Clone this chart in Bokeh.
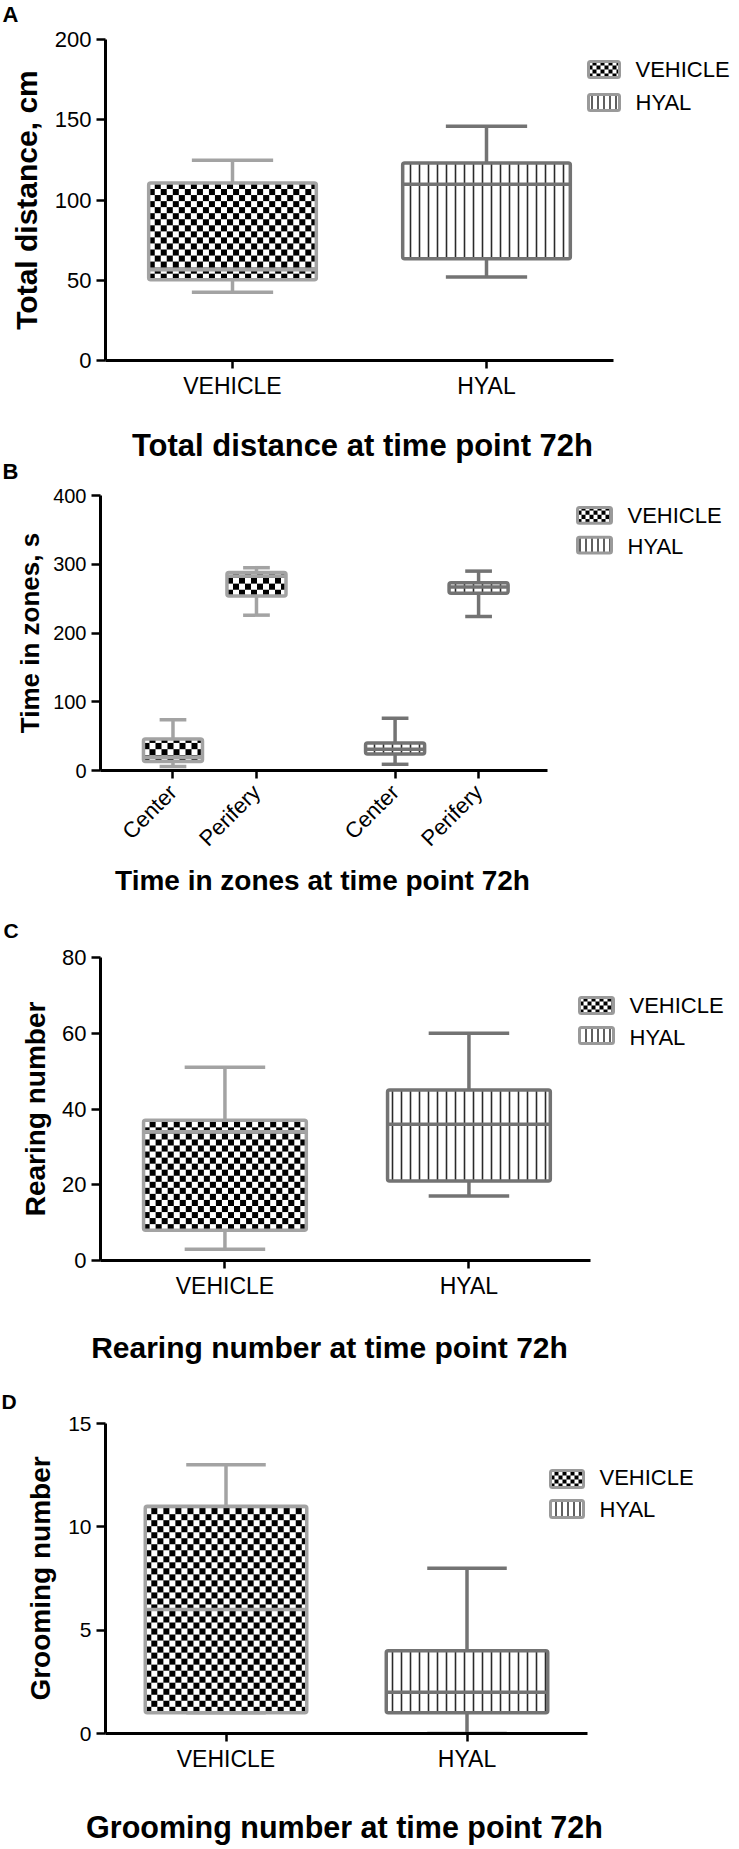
import math
import numpy as np
from bokeh.plotting import figure
from bokeh.models import Range1d, FixedTicker, ColumnDataSource
from bokeh.layouts import column
from bokeh.embed import file_html
from bokeh.resources import INLINE
from bokeh.core.properties import value

# ---------------- data ----------------
A_groups = ["VEHICLE", "HYAL"]
A_min = [42.6, 52.0]
A_q1 = [50.3, 63.4]
A_med = [56.5, 109.8]
A_q3 = [110.6, 123.0]
A_max = [124.7, 146.0]
A_yticks = [0, 50, 100, 150, 200]

B_groups = ["VEHICLE", "VEHICLE", "HYAL", "HYAL"]
B_zones = ["Center", "Perifery", "Center", "Perifery"]
B_min = [6, 226, 9, 224]
B_q1 = [13, 254, 24, 258]
B_med = [19, 283, 31, 267]
B_q3 = [46, 288, 40, 273]
B_max = [74, 295, 76, 290]
B_yticks = [0, 100, 200, 300, 400]

C_groups = ["VEHICLE", "HYAL"]
C_min = [3, 17]
C_q1 = [8, 21]
C_med = [34, 36]
C_q3 = [37, 45]
C_max = [51, 60]
C_yticks = [0, 20, 40, 60, 80]

D_groups = ["VEHICLE", "HYAL"]
D_min = [1, 0]
D_q1 = [1, 1]
D_med = [6, 2]
D_q3 = [11, 4]
D_max = [13, 8]
D_yticks = [0, 5, 10, 15]

legend_names = ["VEHICLE", "HYAL"]

titles = ["Total distance at time point 72h", "Time in zones at time point 72h",
          "Rearing number at time point 72h", "Grooming number at time point 72h"]
letters = ["A", "B", "C", "D"]

# ---------------- style ----------------
FONT = "Liberation Sans"
W = 739
LW = 3.5
COLORS = {"VEHICLE": "#a3a3a3", "HYAL": "#737373"}


def no_align(p):
    if hasattr(p, "frame_align"):
        p.frame_align = False
    return p


def checker(nx, ny, cell):
    nx = max(int(round(nx)), 1)
    ny = max(int(round(ny)), 1)
    img = np.empty((ny, nx), dtype=np.uint32)
    view = img.view(dtype=np.uint8).reshape((ny, nx, 4))
    jj, ii = np.meshgrid(np.arange(nx), np.arange(ny))
    black = ((ii // cell) + (jj // cell)) % 2 == 0
    v = np.where(black, 0, 255).astype(np.uint8)
    view[:, :, 0] = v
    view[:, :, 1] = v
    view[:, :, 2] = v
    view[:, :, 3] = 255
    return img


HYAL_HATCH = dict(hatch_pattern="vertical_line", hatch_scale=9,
                  hatch_weight=1.6, hatch_color="#2a2a2a")


def text_fig(h, items):
    p = figure(width=W, height=h, x_range=Range1d(0, W), y_range=Range1d(h, 0),
               output_backend="svg", toolbar_location=None, min_border=0,
               x_axis_type=None, y_axis_type=None, title=None)
    no_align(p)
    p.outline_line_color = None
    p.xgrid.visible = False
    p.ygrid.visible = False
    p.background_fill_color = "white"
    p.border_fill_color = "white"
    for (x, y, txt, size, align) in items:
        p.text(x=[x], y=[y], text=[txt], text_font=value(FONT), text_font_style="bold",
               text_font_size=size, text_align=align, text_baseline="middle",
               text_color="black")
    return p


def make_panel(cfg):
    H, fl, ft, fb = cfg["H"], cfg["fl"], cfg["ft"], cfg["fb"]
    xs, unit, ymax = cfg["xs"], cfg["unit"], cfg["ymax"]
    fw = W - fl
    fh = H - ft - fb
    xe = xs + fw / unit
    ypx = fh / ymax  # pixels per y unit

    def dx(px):
        return xs + (px - fl) / unit

    def dy(py):
        return (ft + fh - py) / fh * ymax

    p = figure(width=W, height=H, x_range=Range1d(xs, xe), y_range=Range1d(0, ymax),
               output_backend="svg", toolbar_location=None, title=None,
               min_border_left=fl, min_border_right=0, min_border_top=ft, min_border_bottom=fb)
    no_align(p)
    p.outline_line_color = None
    p.xgrid.visible = False
    p.ygrid.visible = False
    p.background_fill_color = "white"
    p.border_fill_color = "white"

    xpos = cfg["xpos"]
    groups = cfg["groups"]
    bw = cfg["box_w"]
    cw = cfg["cap_w"]
    for g in legend_names:
        idx = [i for i, gg in enumerate(groups) if gg == g]
        x = [xpos[i] for i in idx]
        src = ColumnDataSource(dict(
            x=x,
            lo=[cfg["min"][i] for i in idx], q1=[cfg["q1"][i] for i in idx],
            med=[cfg["med"][i] for i in idx], q3=[cfg["q3"][i] for i in idx],
            hi=[cfg["max"][i] for i in idx],
            bl=[v - bw / 2 for v in x], br=[v + bw / 2 for v in x],
            cl=[v - cw / 2 for v in x], cr=[v + cw / 2 for v in x],
        ))
        col = COLORS[g]
        p.segment(x0="x", y0="q3", x1="x", y1="hi", source=src, line_color=col, line_width=LW)
        p.segment(x0="x", y0="q1", x1="x", y1="lo", source=src, line_color=col, line_width=LW)
        p.segment(x0="cl", y0="hi", x1="cr", y1="hi", source=src, line_color=col, line_width=LW)
        p.segment(x0="cl", y0="lo", x1="cr", y1="lo", source=src, line_color=col, line_width=LW)
        if g == "VEHICLE":
            imgs = [checker(bw * unit, (src.data["q3"][k] - src.data["q1"][k]) * ypx, 6)
                    for k in range(len(x))]
            p.image_rgba(image=imgs, x=src.data["bl"], y=src.data["q1"], dw=[bw] * len(x),
                         dh=[src.data["q3"][k] - src.data["q1"][k] for k in range(len(x))])
            p.vbar(x="x", width=bw, top="q3", bottom="q1", source=src, line_color=col,
                   line_width=LW, border_radius=2, fill_alpha=0)
        else:
            p.vbar(x="x", width=bw, top="q3", bottom="q1", source=src, line_color=col,
                   line_width=LW, border_radius=2, fill_color="white", **HYAL_HATCH)
        p.segment(x0="bl", y0="med", x1="br", y1="med", source=src, line_color=col, line_width=LW)

    # legend (inside the frame area, right of the axis extent)
    lg = cfg["legend"]
    for k, g in enumerate(legend_names):
        t = lg["icon_y"][k]
        b = t + lg["icon_h"]
        x0, x1 = lg["icon_x"]
        if g == "VEHICLE":
            p.image_rgba(image=[checker(x1 - x0, b - t, 4)], x=[dx(x0)], y=[dy(b)],
                         dw=[dx(x1) - dx(x0)], dh=[dy(t) - dy(b)])
            p.quad(left=[dx(x0)], right=[dx(x1)], top=[dy(t)], bottom=[dy(b)],
                   line_color="#9a9a9a", line_width=3, border_radius=2, fill_alpha=0)
        else:
            p.quad(left=[dx(x0)], right=[dx(x1)], top=[dy(t)], bottom=[dy(b)],
                   line_color="#9a9a9a", line_width=3, border_radius=2, fill_color="white",
                   hatch_pattern="vertical_line", hatch_scale=6, hatch_weight=1.5,
                   hatch_color="#2a2a2a")
        p.text(x=[dx(lg["text_x"])], y=[dy(lg["text_y"][k])], text=[g],
               text_font=value(FONT), text_font_size="22px", text_baseline="middle",
               text_align="left", text_color="black")

    # axes
    for ax in (p.xaxis[0], p.yaxis[0]):
        ax.axis_line_width = 3
        ax.axis_line_color = "black"
        ax.major_tick_line_width = 2.5
        ax.major_tick_line_color = "black"
        ax.major_tick_in = 0
        ax.minor_tick_line_color = None
        ax.major_label_text_font = FONT
        ax.major_label_text_color = "black"
    p.xaxis.bounds = cfg["x_bounds"]
    p.xaxis.ticker = FixedTicker(ticks=sorted(set(xpos)))
    p.xaxis.major_label_overrides = cfg["xlabels"]
    p.xaxis.major_tick_out = 8
    p.xaxis.major_label_standoff = cfg.get("xstandoff", 4)
    p.xaxis.major_label_text_font_size = cfg["xfs"]
    if cfg.get("rot"):
        p.xaxis.major_label_orientation = math.pi / 4
    p.yaxis.ticker = FixedTicker(ticks=cfg["yticks"])
    p.yaxis.major_tick_out = 9
    p.yaxis.major_label_standoff = 5
    p.yaxis.major_label_text_font_size = cfg["yfs"]

    # y-axis label
    p.yaxis.axis_label = cfg["ylabel"]
    p.yaxis.axis_label_text_font = FONT
    p.yaxis.axis_label_text_font_style = "bold"
    p.yaxis.axis_label_text_font_size = cfg["ylabel_fs"]
    p.yaxis.axis_label_text_color = "black"
    p.yaxis.axis_label_standoff = cfg["ylabel_standoff"]
    return p


# ---- text strip above A ----
t0 = text_fig(26, [(2, 13.5, letters[0], "22px", "left")])

# ---- panel A ----
A_xpos = [i + 1 for i in range(len(A_groups))]
pA = make_panel(dict(
    H=376, fl=105, ft=13, fb=42, xs=0.5, unit=254, ymax=200, yticks=A_yticks,
    xpos=A_xpos, groups=A_groups, min=A_min, q1=A_q1, med=A_med, q3=A_q3, max=A_max,
    box_w=0.66, cap_w=0.32, x_bounds=(0.5, 2.5),
    xlabels={x: g for x, g in zip(A_xpos, A_groups)}, xfs="23px", yfs="22px",
    legend=dict(icon_x=(588, 619), icon_y=(35, 68), icon_h=16, text_x=635, text_y=(43, 76)),
    ylabel="Total distance, cm", ylabel_fs="30px", ylabel_standoff=9,
))

# ---- title A + letter B ----
t1 = text_fig(82, [(362, 43, titles[0], "31px", "center"),
                   (2, 69, letters[1], "22px", "left")])

# ---- panel B ----
GROUP_STEP = 2.66
zone_order = ["Center", "Perifery"]
group_order = ["VEHICLE", "HYAL"]
B_xpos = [round(1 + zone_order.index(z) + GROUP_STEP * group_order.index(g), 3)
          for g, z in zip(B_groups, B_zones)]
pB = make_panel(dict(
    H=378, fl=100, ft=11, fb=90, xs=0.132, unit=83.5, ymax=400, yticks=B_yticks,
    xpos=B_xpos, groups=B_groups, min=B_min, q1=B_q1, med=B_med, q3=B_q3, max=B_max,
    box_w=0.707, cap_w=0.32, x_bounds=(0.132, 5.49),
    xlabels={x: z for x, z in zip(B_xpos, B_zones)}, xfs="22px", yfs="20px", rot=True,
    xstandoff=10,
    legend=dict(icon_x=(577, 611), icon_y=(23, 53), icon_h=16, text_x=627, text_y=(31, 62)),
    ylabel="Time in zones, s", ylabel_fs="26px", ylabel_standoff=5,
))

# ---- title B + letter C ----
t2 = text_fig(83, [(322, 17.5, titles[1], "28px", "center"),
                   (3, 67.5, letters[2], "21px", "left")])

# ---- panel C ----
C_xpos = [i + 1 for i in range(len(C_groups))]
pC = make_panel(dict(
    H=357, fl=100, ft=12, fb=42, xs=0.49, unit=244, ymax=80, yticks=C_yticks,
    xpos=C_xpos, groups=C_groups, min=C_min, q1=C_q1, med=C_med, q3=C_q3, max=C_max,
    box_w=0.667, cap_w=0.33, x_bounds=(0.49, 2.5),
    xlabels={x: g for x, g in zip(C_xpos, C_groups)}, xfs="23px", yfs="22px",
    legend=dict(icon_x=(579, 613), icon_y=(52, 82), icon_h=16, text_x=629, text_y=(60, 92)),
    ylabel="Rearing number", ylabel_fs="28px", ylabel_standoff=8,
))

# ---- title C + letter D ----
t3 = text_fig(111, [(329, 45, titles[2], "30px", "center"),
                    (1, 99, letters[3], "21px", "left")])

# ---- panel D ----
D_xpos = [i + 1 for i in range(len(D_groups))]
pD = make_panel(dict(
    H=362, fl=105, ft=10, fb=42, xs=0.5, unit=241, ymax=15, yticks=D_yticks,
    xpos=D_xpos, groups=D_groups, min=D_min, q1=D_q1, med=D_med, q3=D_q3, max=D_max,
    box_w=0.67, cap_w=0.33, x_bounds=(0.5, 2.5),
    xlabels={x: g for x, g in zip(D_xpos, D_groups)}, xfs="23px", yfs="21px",
    legend=dict(icon_x=(550, 583), icon_y=(57, 87), icon_h=17, text_x=599, text_y=(64, 96)),
    ylabel="Grooming number", ylabel_fs="28px", ylabel_standoff=9,
))

# ---- title D ----
t4 = text_fig(73, [(344, 51, titles[3], "30.5px", "center")])

layout = column(t0, pA, t1, pB, t2, pC, t3, pD, t4)
open("out.html", "w").write(file_html(layout, INLINE))
